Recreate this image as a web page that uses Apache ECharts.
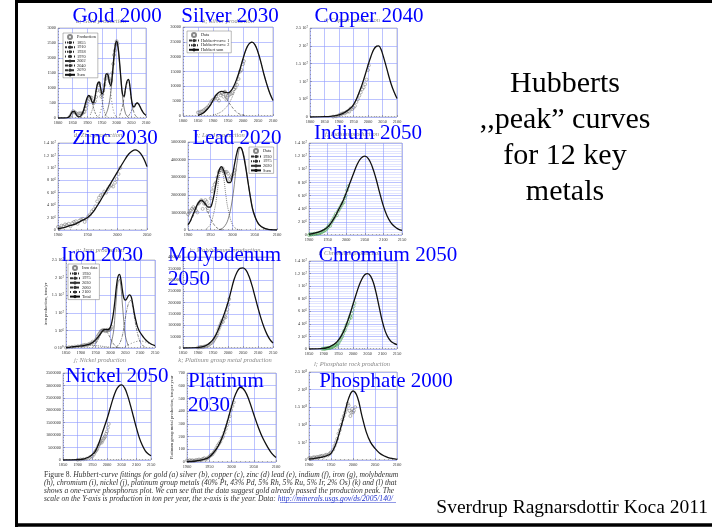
<!DOCTYPE html>
<html><head><meta charset="utf-8">
<script src="https://cdn.jsdelivr.net/npm/echarts@6/dist/echarts.min.js"></script>
<style>html,body{margin:0;padding:0;background:#fff}#c{width:712px;height:527px}</style>
</head><body><div id="c"></div>
<script>
// ---------------- tick labels ----------------
const goldYLabels=['0','500','1000','1500','2000','2500','3000'];
const silverYLabels=['0','5000','10000','15000','20000','25000','30000'];
const copperYLabels=['0','5 10⁶','1 10⁷','1.5 10⁷','2 10⁷','2.5 10⁷'];
const zincYLabels=['0','2 10⁶','4 10⁶','6 10⁶','8 10⁶','1 10⁷','1.2 10⁷','1.4 10⁷'];
const leadYLabels=['0','1000000','2000000','3000000','4000000','5000000'];
const indiumYLabels=['0','2 10⁶','4 10⁶','6 10⁶','8 10⁶','1 10⁷','1.2 10⁷','1.4 10⁷'];
const ironYLabels=['0 10⁰','5 10⁶','1 10⁷','1.5 10⁷','2 10⁷','2.5 10⁷'];
const molyYLabels=['0','50000','100000','150000','200000','250000','300000','350000','400000'];
const chromYLabels=['0','2 10⁶','4 10⁶','6 10⁶','8 10⁶','1 10⁷','1.2 10⁷','1.4 10⁷'];
const nickelYLabels=['0','500000','1000000','1500000','2000000','2500000','3000000','3500000'];
const platYLabels=['0','100','200','300','400','500','600','700'];
const phosYLabels=['0','5 10⁷','1 10⁸','1.5 10⁸','2 10⁸','2.5 10⁸'];

// ---------------- titles ----------------
const metalTitles=['Gold 2000','Silver 2030','Copper 2040','Zinc 2030','Lead 2020','Indium 2050','Iron 2030','Molybdenum','2050','Chromium 2050','Nickel 2050','Platinum','2030','Phosphate 2000'];
const panelCaptions=['a; Gold production','b; Silver production','c; Copper production','d; Zinc production','e; Lead production','f; Indium production','g; Iron production','h; Molybdenum production','i; Chromium production','j; Nickel production','k; Platinum group metal production','l; Phosphate rock production'];
const slideTitle='Hubberts\n,,peak” curves\nfor 12 key\nmetals';
const authorText='Sverdrup Ragnarsdottir Koca 2011';
const captionLines=[
 '{n|Figure 8.} {i|Hubbert-curve fittings for gold (a) silver (b), copper (c), zinc (d) lead (e), indium (f), iron (g), molybdenum}',
 '{i|(h), chromium (i), nickel (j), platinum group metals (40% Pt, 43% Pd, 5% Rh, 5% Ru, 5% Ir, 2% Os) (k) and (l) that}',
 '{i|shows a one-curve phosphorus plot. We can see that the data suggest gold already passed the production peak. The}',
 '{i|scale on the Y-axis is production in ton per year, the x-axis is the year. Data: }{u|http://minerals.usgs.gov/ds/2005/140/}'
];

// ---------------- gold ----------------
const goldSum=[[1800,0],[1820,0],[1830,5],[1835,20],[1840,60],[1845,150],[1850,215],[1855,220],[1860,150],[1865,70],[1870,40],[1875,50],[1880,100],[1885,200],[1890,360],[1895,540],[1900,690],[1905,750],[1910,700],[1915,560],[1920,500],[1925,640],[1930,920],[1935,1150],[1940,1200],[1945,1020],[1950,800],[1955,880],[1960,1220],[1965,1470],[1970,1450],[1975,1200],[1980,1080],[1985,1420],[1990,1980],[1995,2420],[2000,2560],[2005,2350],[2010,1850],[2015,1250],[2020,800],[2025,720],[2030,980],[2035,1220],[2040,1290],[2045,1060],[2050,660],[2055,400],[2060,370],[2065,460],[2070,500],[2075,460],[2080,370],[2085,270],[2090,190],[2095,130],[2100,90]];
const gold1855=[[1830,10],[1840,60],[1850,190],[1855,220],[1860,190],[1870,60],[1880,10]];
const gold1910=[[1880,50],[1890,250],[1900,600],[1905,720],[1910,700],[1920,380],[1930,100],[1940,15]];
const gold1938=[[1910,100],[1920,380],[1930,900],[1938,1150],[1945,950],[1950,600],[1960,150],[1970,20]];
const gold1970=[[1940,80],[1950,400],[1960,1100],[1968,1450],[1975,1250],[1980,800],[1990,200],[2000,20]];
const gold2002=[[1960,60],[1970,300],[1980,850],[1990,1850],[2000,2500],[2010,1800],[2020,700],[2030,150],[2040,20]];
const gold2040=[[2010,80],[2020,400],[2030,950],[2040,1270],[2050,620],[2060,150],[2070,20]];
const gold2070=[[2040,60],[2050,220],[2060,420],[2070,500],[2080,370],[2090,180],[2100,70]];
const goldData=[[1840,40],[1845,110],[1848,180],[1852,230],[1856,200],[1860,170],[1865,120],[1870,150],[1875,160],[1880,150],[1885,170],[1890,200],[1895,300],[1898,420],[1902,560],[1906,640],[1910,690],[1914,680],[1918,560],[1922,500],[1926,560],[1930,700],[1934,920],[1938,1100],[1941,1150],[1944,900],[1947,720],[1950,780],[1954,920],[1958,1100],[1962,1300],[1966,1420],[1970,1450],[1973,1330],[1977,1220],[1981,1250],[1985,1500],[1988,1800],[1991,2100],[1994,2250],[1997,2450],[2000,2560],[2003,2480]];

// ---------------- silver ----------------
const silverSum=[[1850,200],[1860,600],[1870,1200],[1880,2200],[1890,3500],[1900,5300],[1910,7000],[1920,8000],[1930,8300],[1940,8000],[1950,7800],[1960,8500],[1970,10200],[1980,12700],[1990,15800],[2000,19300],[2010,22400],[2020,24300],[2030,24900],[2040,24000],[2050,21500],[2060,18000],[2070,14000],[2080,10500],[2090,7500],[2100,5200]];
const silverC1=[[1850,200],[1860,600],[1870,1200],[1880,2200],[1890,3500],[1900,5000],[1910,6500],[1920,7400],[1930,7400],[1940,6500],[1950,5000],[1960,3500],[1970,2200],[1980,1200],[1990,600],[2000,300],[2010,100]];
const silverC2=[[1900,300],[1910,600],[1920,1000],[1930,1600],[1940,2500],[1950,3700],[1960,5500],[1970,8000],[1980,11500],[1990,15200],[2000,19000],[2010,22300],[2020,24300],[2030,24900],[2040,24000],[2050,21500],[2060,18000],[2070,14000],[2080,10500],[2090,7500],[2100,5200]];
const silverData=[[1850,1200],[1855,1300],[1860,1500],[1865,1600],[1870,2000],[1875,2400],[1880,2800],[1885,3300],[1890,4000],[1895,5000],[1900,5500],[1905,5800],[1910,6600],[1915,5800],[1920,5200],[1925,7000],[1930,7800],[1935,6500],[1938,8000],[1940,8200],[1943,7500],[1945,5500],[1948,6200],[1950,6800],[1955,7200],[1960,7500],[1965,7800],[1970,9000],[1975,9500],[1980,10500],[1985,12500],[1990,15000],[1995,15500],[2000,17500],[2003,18500]];

// ---------------- copper ----------------
const copperCurve=[[1800,0],[1850,1e5],[1870,2e5],[1900,6e5],[1920,1.3e6],[1940,2.5e6],[1950,3.5e6],[1960,5.0e6],[1970,7.0e6],[1980,9.2e6],[1990,11.8e6],[2000,14.5e6],[2010,17.0e6],[2020,19.0e6],[2030,19.9e6],[2037,20.0e6],[2045,19.0e6],[2050,17.8e6],[2060,15.0e6],[2070,12.0e6],[2080,9.2e6],[2090,7.0e6],[2100,5.2e6]];
const copperData=[[1880,1e5],[1890,2e5],[1900,5e5],[1905,7e5],[1910,9e5],[1915,1.1e6],[1920,1.0e6],[1925,1.4e6],[1930,1.6e6],[1935,1.5e6],[1940,2.4e6],[1945,2.2e6],[1950,2.6e6],[1955,3.1e6],[1960,4.2e6],[1965,5.0e6],[1970,6.0e6],[1975,6.9e6],[1980,7.8e6],[1985,8.3e6],[1990,9.2e6],[1995,10.5e6],[2000,13.2e6],[2003,14.5e6]];

// ---------------- zinc ----------------
const zincCurve=[[1900,2e5],[1910,4e5],[1920,7e5],[1930,1.0e6],[1940,1.5e6],[1950,2.0e6],[1960,3.0e6],[1970,4.5e6],[1980,6.1e6],[1990,7.7e6],[2000,9.3e6],[2010,10.9e6],[2020,12.3e6],[2030,12.9e6],[2040,12.2e6],[2050,10.2e6]];
const zincData=[[1900,5e5],[1903,3e5],[1906,7e5],[1909,6e5],[1912,9e5],[1915,8e5],[1918,1.0e6],[1921,6e5],[1924,1.1e6],[1927,1.3e6],[1930,1.4e6],[1933,1.0e6],[1936,1.5e6],[1939,1.7e6],[1942,1.8e6],[1945,1.3e6],[1948,1.8e6],[1951,2.2e6],[1954,2.5e6],[1957,3.0e6],[1960,3.3e6],[1963,3.8e6],[1966,4.6e6],[1969,5.2e6],[1972,5.6e6],[1975,5.7e6],[1978,6.2e6],[1981,6.0e6],[1984,6.6e6],[1987,7.0e6],[1990,7.2e6],[1993,7.0e6],[1996,7.6e6],[1999,8.2e6],[2002,9.0e6],[2005,10.0e6]];

// ---------------- lead ----------------
const leadSum=[[1900,3e5],[1905,5e5],[1910,8e5],[1915,1.1e6],[1920,1.4e6],[1925,1.6e6],[1930,1.7e6],[1935,1.6e6],[1940,1.45e6],[1945,1.3e6],[1950,1.3e6],[1955,1.6e6],[1960,2.2e6],[1965,2.9e6],[1970,3.4e6],[1975,3.6e6],[1980,3.4e6],[1985,3.0e6],[1990,2.7e6],[1995,2.7e6],[2000,3.1e6],[2005,3.8e6],[2010,4.4e6],[2015,4.7e6],[2020,4.65e6],[2025,4.2e6],[2030,3.5e6],[2035,2.7e6],[2040,1.9e6],[2045,1.2e6],[2050,8e5],[2055,5e5],[2060,3e5],[2070,1.2e5],[2080,4e4],[2090,1e4],[2100,0]];
const leadC1=[[1900,2.5e5],[1910,7e5],[1920,1.3e6],[1930,1.65e6],[1940,1.3e6],[1950,7e5],[1960,2.5e5],[1970,5e4],[1980,0]];
const leadC2=[[1940,5e4],[1950,3e5],[1960,1.2e6],[1965,2.0e6],[1970,3.0e6],[1975,3.5e6],[1980,3.0e6],[1985,2.0e6],[1990,1.2e6],[2000,3e5],[2010,5e4],[2020,0]];
const leadC3=[[1970,2e4],[1980,1.5e5],[1990,6e5],[2000,1.8e6],[2010,3.8e6],[2018,4.7e6],[2025,4.3e6],[2030,3.6e6],[2040,1.9e6],[2050,8e5],[2060,3e5],[2070,1e5],[2080,2e4],[2100,0]];
const leadData=[[1900,9e5],[1903,1.0e6],[1906,1.1e6],[1909,1.2e6],[1912,1.3e6],[1915,1.2e6],[1918,1.1e6],[1921,1.0e6],[1924,1.5e6],[1927,1.6e6],[1930,1.7e6],[1933,1.2e6],[1936,1.5e6],[1939,1.7e6],[1942,1.6e6],[1945,1.1e6],[1948,1.4e6],[1951,1.8e6],[1954,2.2e6],[1957,2.4e6],[1960,2.6e6],[1963,2.7e6],[1966,3.0e6],[1969,3.3e6],[1972,3.4e6],[1975,3.4e6],[1978,3.5e6],[1981,3.3e6],[1984,3.3e6],[1987,3.3e6],[1990,3.2e6],[1993,2.9e6],[1996,3.0e6],[1999,3.1e6],[2002,3.2e6],[2005,3.4e6]];

// ---------------- indium ----------------
const indiumCurve=[[1900,1e5],[1910,2e5],[1920,3.5e5],[1930,5.5e5],[1940,8e5],[1950,1.2e6],[1960,1.9e6],[1970,2.8e6],[1980,3.9e6],[1990,5.0e6],[2000,6.4e6],[2010,7.9e6],[2020,9.4e6],[2030,10.8e6],[2040,11.7e6],[2050,12.0e6],[2060,11.6e6],[2070,10.4e6],[2080,8.6e6],[2090,6.4e6],[2100,4.4e6],[2110,2.9e6],[2120,1.9e6],[2130,1.3e6],[2140,9e5],[2150,7e5]];
const indiumData=[[1900,0],[1903,1e5],[1906,5e4],[1909,1.5e5],[1912,1e5],[1915,2e5],[1918,1.5e5],[1921,2.5e5],[1924,2e5],[1927,3e5],[1930,3.5e5],[1933,4e5],[1936,5e5],[1939,6e5],[1942,7e5],[1945,8e5],[1948,1.0e6],[1951,1.2e6],[1954,1.5e6],[1957,1.4e6],[1960,1.9e6],[1963,2.2e6],[1966,2.5e6],[1969,2.8e6],[1972,3.2e6],[1975,3.0e6],[1978,3.6e6],[1981,3.9e6],[1984,4.2e6],[1987,4.5e6],[1990,4.8e6],[1993,5.0e6],[1996,5.6e6],[1999,6.0e6],[2002,6.8e6],[2005,7.4e6]];

// ---------------- iron ----------------
const ironTotal=[[1850,1e5],[1860,2e5],[1870,3e5],[1880,4e5],[1890,5e5],[1900,6e5],[1910,7e5],[1920,9e5],[1930,1.1e6],[1940,1.6e6],[1950,2.3e6],[1960,3.3e6],[1970,4.5e6],[1975,5.0e6],[1980,5.3e6],[1985,5.3e6],[1990,5.2e6],[1995,5.3e6],[2000,6.0e6],[2005,7.5e6],[2010,10.0e6],[2015,13.5e6],[2020,17.5e6],[2025,20.2e6],[2030,20.9e6],[2035,19.5e6],[2040,16.5e6],[2045,14.2e6],[2050,13.6e6],[2055,14.0e6],[2060,14.8e6],[2065,15.1e6],[2070,14.5e6],[2075,12.5e6],[2080,10.0e6],[2085,8.0e6],[2090,6.3e6],[2095,5.2e6],[2100,4.4e6],[2110,3.2e6],[2120,2.2e6],[2130,1.5e6],[2140,1.0e6],[2150,7e5]];
const iron1930=[[1850,1e5],[1900,5e5],[1930,8e5],[1960,6e5],[1990,3e5],[2020,1e5],[2050,0]];
const iron1975=[[1940,3e5],[1950,1.2e6],[1960,2.7e6],[1970,4.3e6],[1980,5.0e6],[1990,4.3e6],[2000,2.7e6],[2010,1.2e6],[2020,3e5],[2030,5e4]];
const iron2030=[[2000,6e5],[2010,4.5e6],[2015,9.0e6],[2020,14.5e6],[2025,18.5e6],[2030,19.5e6],[2035,17.5e6],[2040,12.5e6],[2045,7.5e6],[2050,3.5e6],[2060,5e5]];
const iron2060=[[2020,3e5],[2030,1.2e6],[2040,3.5e6],[2050,8.5e6],[2060,12.5e6],[2068,13.5e6],[2075,11.5e6],[2080,9.0e6],[2090,4.5e6],[2100,1.8e6],[2110,6e5],[2120,1.5e5]];
const iron2100=[[2050,5e5],[2070,1.3e6],[2090,1.9e6],[2100,2.0e6],[2110,1.9e6],[2130,1.3e6],[2150,6e5]];
const ironData=[[1850,1e5],[1860,2e5],[1870,3e5],[1880,4e5],[1890,5e5],[1900,6e5],[1905,7e5],[1910,8e5],[1915,9e5],[1920,8e5],[1925,1.0e6],[1930,1.2e6],[1935,1.3e6],[1940,1.8e6],[1945,1.6e6],[1950,2.2e6],[1953,2.6e6],[1956,3.2e6],[1959,3.6e6],[1962,4.0e6],[1965,4.4e6],[1968,4.8e6],[1971,4.9e6],[1974,5.1e6],[1977,5.0e6],[1980,5.0e6],[1983,4.8e6],[1986,4.9e6],[1989,5.2e6],[1992,5.0e6],[1995,5.1e6],[1998,5.3e6],[2001,5.5e6],[2004,6.0e6]];

// ---------------- molybdenum ----------------
const molyCurve=[[1850,0],[1900,2e3],[1920,7e3],[1930,1.3e4],[1940,2.3e4],[1950,3.7e4],[1960,5.8e4],[1970,8.8e4],[1980,1.22e5],[1990,1.6e5],[2000,2.0e5],[2010,2.5e5],[2020,3.0e5],[2030,3.33e5],[2040,3.5e5],[2050,3.52e5],[2060,3.42e5],[2070,3.15e5],[2080,2.75e5],[2090,2.26e5],[2100,1.76e5],[2110,1.3e5],[2120,9.1e4],[2130,6.0e4],[2140,3.7e4],[2150,2.2e4]];
const molyData=[[1900,2e3],[1905,3e3],[1910,5e3],[1915,4e3],[1920,6e3],[1925,8e3],[1930,1.0e4],[1935,1.2e4],[1940,1.8e4],[1945,2.2e4],[1950,2.8e4],[1953,3.5e4],[1956,4.2e4],[1959,4.8e4],[1962,5.5e4],[1965,6.5e4],[1968,8.0e4],[1971,9.0e4],[1974,1.0e5],[1977,1.1e5],[1980,1.2e5],[1983,1.15e5],[1986,1.3e5],[1989,1.4e5],[1992,1.35e5],[1995,1.55e5],[1998,1.7e5],[2001,1.9e5],[2004,2.15e5]];

// ---------------- chromium ----------------
const chromCurve=[[1850,0],[1880,2e4],[1900,1e5],[1910,2e5],[1920,3.5e5],[1930,6e5],[1940,9e5],[1950,1.4e6],[1960,2.1e6],[1970,3.0e6],[1980,4.2e6],[1990,5.6e6],[2000,7.1e6],[2010,8.6e6],[2020,10.0e6],[2030,11.1e6],[2040,11.8e6],[2050,12.0e6],[2060,11.6e6],[2070,10.5e6],[2080,8.7e6],[2090,6.5e6],[2100,4.4e6],[2110,2.8e6],[2120,1.8e6],[2130,1.2e6],[2140,9e5],[2150,7e5]];
const chromData=[[1895,2e4],[1900,5e4],[1903,3e4],[1906,8e4],[1909,1e5],[1912,1.2e5],[1915,1.5e5],[1918,2e5],[1921,1.5e5],[1924,2.5e5],[1927,3e5],[1930,4e5],[1933,3.5e5],[1936,5e5],[1939,6e5],[1942,7e5],[1945,5e5],[1948,8e5],[1951,1.0e6],[1954,1.3e6],[1957,1.5e6],[1960,1.8e6],[1963,2.0e6],[1966,2.4e6],[1969,2.8e6],[1972,3.0e6],[1975,3.4e6],[1978,3.8e6],[1981,4.0e6],[1984,4.3e6],[1987,4.8e6],[1990,5.2e6],[1993,5.0e6],[1996,5.6e6],[1999,6.2e6],[2002,6.8e6],[2005,7.3e6]];

// ---------------- nickel ----------------
const nickelCurve=[[1850,0],[1900,1e4],[1920,4e4],[1930,8e4],[1940,1.3e5],[1950,2.2e5],[1960,3.5e5],[1970,6.0e5],[1980,9.5e5],[1990,1.3e6],[2000,1.65e6],[2010,2.05e6],[2020,2.45e6],[2030,2.78e6],[2040,2.97e6],[2050,3.02e6],[2060,2.9e6],[2070,2.6e6],[2080,2.2e6],[2090,1.75e6],[2100,1.3e6],[2110,9e5],[2120,6e5],[2130,3.8e5],[2140,2.5e5],[2150,1.7e5]];
const nickelData=[[1900,1e4],[1910,2e4],[1920,3e4],[1930,5e4],[1940,1e5],[1945,1.3e5],[1950,1.5e5],[1955,2.2e5],[1958,3e5],[1961,3.5e5],[1964,4e5],[1967,4.5e5],[1970,5.5e5],[1973,6.2e5],[1976,6.8e5],[1979,7.5e5],[1982,7e5],[1985,7.8e5],[1988,8.5e5],[1991,9e5],[1994,9.5e5],[1997,1.05e6],[2000,1.15e6],[2003,1.3e6],[2006,1.45e6]];

// ---------------- platinum ----------------
const platCurve=[[1900,3],[1920,8],[1940,22],[1950,40],[1960,75],[1970,125],[1980,200],[1990,310],[2000,435],[2010,540],[2020,588],[2030,560],[2040,480],[2050,375],[2060,275],[2070,190],[2080,125],[2090,70],[2100,35]];
const platData=[[1900,12],[1903,8],[1906,15],[1909,10],[1912,14],[1915,9],[1918,12],[1921,16],[1924,14],[1927,20],[1930,15],[1933,18],[1936,25],[1939,30],[1942,22],[1945,28],[1948,35],[1951,45],[1954,55],[1957,60],[1960,75],[1963,90],[1966,110],[1969,130],[1972,145],[1975,160],[1978,185],[1981,200],[1984,230],[1987,260],[1990,290],[1993,320],[1996,360],[1999,410],[2002,440],[2005,470]];

// ---------------- phosphate ----------------
const phosCurve=[[1900,3e6],[1910,4e6],[1920,6e6],[1930,8e6],[1940,1.2e7],[1950,1.9e7],[1960,4.2e7],[1970,8.2e7],[1980,1.27e8],[1990,1.75e8],[2000,1.96e8],[2010,1.79e8],[2020,1.27e8],[2030,8.0e7],[2040,5.0e7],[2050,3.3e7],[2060,2.0e7],[2070,1.2e7],[2080,7e6],[2090,4e6],[2100,2e6]];
const phosData=[[1900,5e6],[1903,6e6],[1906,4e6],[1909,7e6],[1912,8e6],[1915,6e6],[1918,9e6],[1921,7e6],[1924,1.0e7],[1927,1.1e7],[1930,1.2e7],[1933,9e6],[1936,1.3e7],[1939,1.5e7],[1942,1.3e7],[1945,1.6e7],[1948,1.9e7],[1950,2.2e7],[1955,3.0e7],[1958,4.0e7],[1961,5.0e7],[1964,6.0e7],[1967,7.5e7],[1970,8.5e7],[1973,1.0e8],[1976,1.15e8],[1979,1.25e8],[1982,1.35e8],[1985,1.45e8],[1988,1.6e8],[1990,1.55e8],[1992,1.4e8],[1994,1.25e8],[1996,1.35e8],[1998,1.45e8],[2000,1.35e8],[2002,1.4e8],[2005,1.5e8]];

// ================= build =================
const SERIF='"Liberation Serif","Times New Roman",serif';
const GRAY='#6a6a6a', GREEN='#3c9c46';
const DOT=[1,1], DASH=[3,1.5], DASHDOT=[3,1,1,1];
const panels=[
 {box:[58,28,88,90],x:[1800,2100],y:[3000,500],yl:goldYLabels,
  comps:[['1855|a',gold1855,DOT],['1910|a',gold1910,[2,1]],['1938|a',gold1938,DOT],['1970|a',gold1970,[1,2]],['2002|a',gold2002,'solid'],['2040|a',gold2040,DASH],['2070|a',gold2070,DASHDOT]],
  main:['Sum|a',goldSum],pts:['Production|a',goldData,GRAY]},
 {box:[183,27,90,89],x:[1800,2100],y:[30000,5000],yl:silverYLabels,
  comps:[['Hubbert-curve 1|b',silverC1,DASH],['Hubbert-curve 2|b',silverC2,DOT]],
  main:['Hubbert sum|b',silverSum],pts:['Data|b',silverData,GRAY]},
 {box:[310,28,87,89],x:[1800,2100],y:[2.5e7,5e6],yl:copperYLabels,comps:[],main:['c',copperCurve],pts:['cd',copperData,GRAY]},
 {box:[58,143,89,87],x:[1900,2050],y:[1.4e7,2e6],yl:zincYLabels,comps:[],main:['d',zincCurve],pts:['dd',zincData,GRAY]},
 {box:[188,142,89,88],x:[1900,2100],y:[5e6,1e6],yl:leadYLabels,
  comps:[['1930|e',leadC1,DASH],['1975|e',leadC2,DOT],['2020|e',leadC3,'solid']],
  main:['Sum|e',leadSum],pts:['Data|e',leadData,GRAY]},
 {box:[309,143,93,92],x:[1900,2150],y:[1.4e7,2e6],yl:indiumYLabels,minor:true,comps:[],main:['f',indiumCurve],pts:['fd',indiumData,GREEN]},
 {box:[66,260,89,88],x:[1850,2150],y:[2.5e7,5e6],yl:ironYLabels,yname:'iron production, tons/yr',ynameGap:18,
  comps:[['1930|g',iron1930,DOT],['1975|g',iron1975,DASH],['2030|g',iron2030,'solid'],['2060|g',iron2060,DASHDOT],['2100|g',iron2100,[1,2]]],
  main:['Total|g',ironTotal],pts:['Iron data|g',ironData,GRAY]},
 {box:[183,257,90,91],x:[1850,2150],y:[4e5,5e4],yl:molyYLabels,comps:[],main:['h',molyCurve],pts:['hd',molyData,GRAY]},
 {box:[309,261,88,88],x:[1850,2150],y:[1.4e7,2e6],yl:chromYLabels,minor:true,comps:[],main:['i',chromCurve],pts:['id',chromData,GREEN]},
 {box:[63,373,88,87],x:[1850,2150],y:[3.5e6,5e5],yl:nickelYLabels,comps:[],main:['j',nickelCurve],pts:['jd',nickelData,GRAY]},
 {box:[187,373,89,89],x:[1900,2100],y:[700,100],yl:platYLabels,yname:'Platinum group metal production, ton per year',ynameGap:13,comps:[],main:['k',platCurve],pts:['kd',platData,GRAY]},
 {box:[309,372,88,88],x:[1900,2100],y:[2.5e8,5e7],yl:phosYLabels,comps:[],main:['l',phosCurve],pts:['ld',phosData,GRAY]}
];
const grid=[],xAxis=[],yAxis=[],series=[];
const tickStyle={color:'#666',width:0.5};
panels.forEach((p,i)=>{
  grid.push({left:p.box[0],top:p.box[1],width:p.box[2],height:p.box[3],show:true,backgroundColor:'#fff',borderColor:'#9a9a9a',borderWidth:0.6});
  xAxis.push({type:'value',gridIndex:i,min:p.x[0],max:p.x[1],interval:50,
    axisLine:{show:false},axisTick:{show:true,inside:true,length:2,lineStyle:tickStyle},
    minorTick:{show:true,splitNumber:5,length:1,lineStyle:tickStyle},
    axisLabel:{fontSize:4.3,color:'#333',margin:3,fontFamily:SERIF,showMinLabel:true,showMaxLabel:true,formatter:v=>String(v)},
    splitLine:{show:true,lineStyle:{color:'#8f9bff',width:0.6}}});
  const y={type:'value',gridIndex:i,min:0,max:p.y[0],interval:p.y[1],
    axisLine:{show:false},axisTick:{show:true,inside:true,length:2,lineStyle:tickStyle},
    minorTick:{show:true,splitNumber:5,length:1,lineStyle:tickStyle},
    axisLabel:{fontSize:4.3,color:'#333',margin:2,fontFamily:SERIF,showMinLabel:true,showMaxLabel:true,
      formatter:(v)=>{const k=Math.round(v/p.y[1]);return p.yl[k]!==undefined?p.yl[k]:'';}},
    splitLine:{show:true,lineStyle:{color:'#8f9bff',width:0.6}}};
  if(p.minor){y.minorSplitLine={show:true,lineStyle:{color:'#c4cbff',width:0.5}};}
  if(p.yname){Object.assign(y,{name:p.yname,nameLocation:'middle',nameGap:p.ynameGap,nameRotate:90,nameTextStyle:{fontSize:4.5,fontFamily:SERIF,color:'#333'}});}
  yAxis.push(y);
  p.comps.forEach(c=>series.push({type:'line',name:c[0],xAxisIndex:i,yAxisIndex:i,data:c[1],symbol:'none',showSymbol:false,smooth:0.4,
    itemStyle:{color:'#333'},lineStyle:{color:'#333',width:0.6,type:c[2]},z:2,silent:true}));
  series.push({type:'scatter',name:p.pts[0],xAxisIndex:i,yAxisIndex:i,data:p.pts[1],symbol:'circle',symbolSize:3,
    itemStyle:{color:'rgba(255,255,255,0)',borderColor:p.pts[2],borderWidth:0.6},z:3,silent:true});
  series.push({type:'line',name:p.main[0],xAxisIndex:i,yAxisIndex:i,data:p.main[1],symbol:'none',showSymbol:false,smooth:0.4,
    itemStyle:{color:'#111'},lineStyle:{color:'#111',width:1.3},z:4,silent:true});
});
function lg(left,top,names){return {left,top,orient:'vertical',data:names,itemGap:0.6,itemWidth:10,itemHeight:4,padding:[1,2,1,1],
  backgroundColor:'#fff',borderColor:'#777',borderWidth:0.5,selectedMode:false,formatter:n=>n.split('|')[0],
  textStyle:{fontSize:4.3,color:'#222',fontFamily:SERIF,padding:[0,0,0,-3]}};}
const legend=[
  lg(63,33,['Production|a','1855|a','1910|a','1938|a','1970|a','2002|a','2040|a','2070|a','Sum|a']),
  lg(187,31,['Data|b','Hubbert-curve 1|b','Hubbert-curve 2|b','Hubbert sum|b']),
  lg(249,147,['Data|e','1930|e','1975|e','2020|e','Sum|e']),
  lg(68,264,['Iron data|g','1930|g','1975|g','2030|g','2060|g','2100|g','Total|g'])
];
function T(text,x,y,size,fill,align,extra){return {type:'text',x,y,z:100,silent:true,style:Object.assign({text,
  font:size+'px '+SERIF,fontSize:size,fontFamily:SERIF,fill,align,textAlign:align,verticalAlign:'middle',textVerticalAlign:'middle'},extra||{})};}
const graphic=[];
// frame
graphic.push({type:'line',z:90,silent:true,shape:{x1:15,y1:1.5,x2:712,y2:1.5},style:{stroke:'#000',lineWidth:3}});
graphic.push({type:'line',z:90,silent:true,shape:{x1:16.5,y1:0,x2:16.5,y2:527},style:{stroke:'#000',lineWidth:3}});
graphic.push({type:'line',z:90,silent:true,shape:{x1:15,y1:525,x2:712,y2:525},style:{stroke:'#000',lineWidth:3.5}});
// small panel captions
const capPos=[[101,21],[228,21],[352,20],[98,135],[220,135],[352,134],[100,250],[225,250],[350,253],[100,360],[225,360],[352,364]];
panelCaptions.forEach((t,k)=>graphic.push(Object.assign(T(t,capPos[k][0],capPos[k][1],6.5,'#888','center',{fontStyle:'italic',font:'italic 6.5px '+SERIF}),{z:50})));
// blue metal titles
const titlePos=[[117,16,'center'],[230,16,'center'],[369,16,'center'],[115,138,'center'],[237,138,'center'],[368,133,'center'],[102,255,'center'],[168,255,'left'],[168,279,'left'],[388,255,'center'],[117,376,'center'],[188,381,'left'],[188,405,'left'],[386,381,'center']];
metalTitles.forEach((t,k)=>graphic.push(T(t,titlePos[k][0],titlePos[k][1],21,'#0000ff',titlePos[k][2])));
// slide title and author
graphic.push(T(slideTitle,565,138,30,'#000','center',{lineHeight:36}));
graphic.push(T(authorText,708,508,19.5,'#000','right'));
// figure caption
const CF=7.6;
const rich={n:{fontSize:CF,fontFamily:SERIF,fill:'#333'},i:{fontSize:CF,fontFamily:SERIF,fontStyle:'italic',fill:'#333'},u:{fontSize:CF,fontFamily:SERIF,fontStyle:'italic',fill:'#2233cc'}};
const capY=[474.5,482.5,490.5,498.5];
captionLines.forEach((t,k)=>graphic.push(T(t,44,capY[k],CF,'#333','left',{rich})));
graphic.push({type:'line',z:100,silent:true,shape:{x1:280,y1:502.5,x2:396,y2:502.5},style:{stroke:'#2233cc',lineWidth:0.5}});

const chart=echarts.init(document.getElementById('c'),null,{renderer:'canvas'});
chart.setOption({animation:false,backgroundColor:'#fff',grid,xAxis,yAxis,series,legend,graphic});
</script></body></html>
